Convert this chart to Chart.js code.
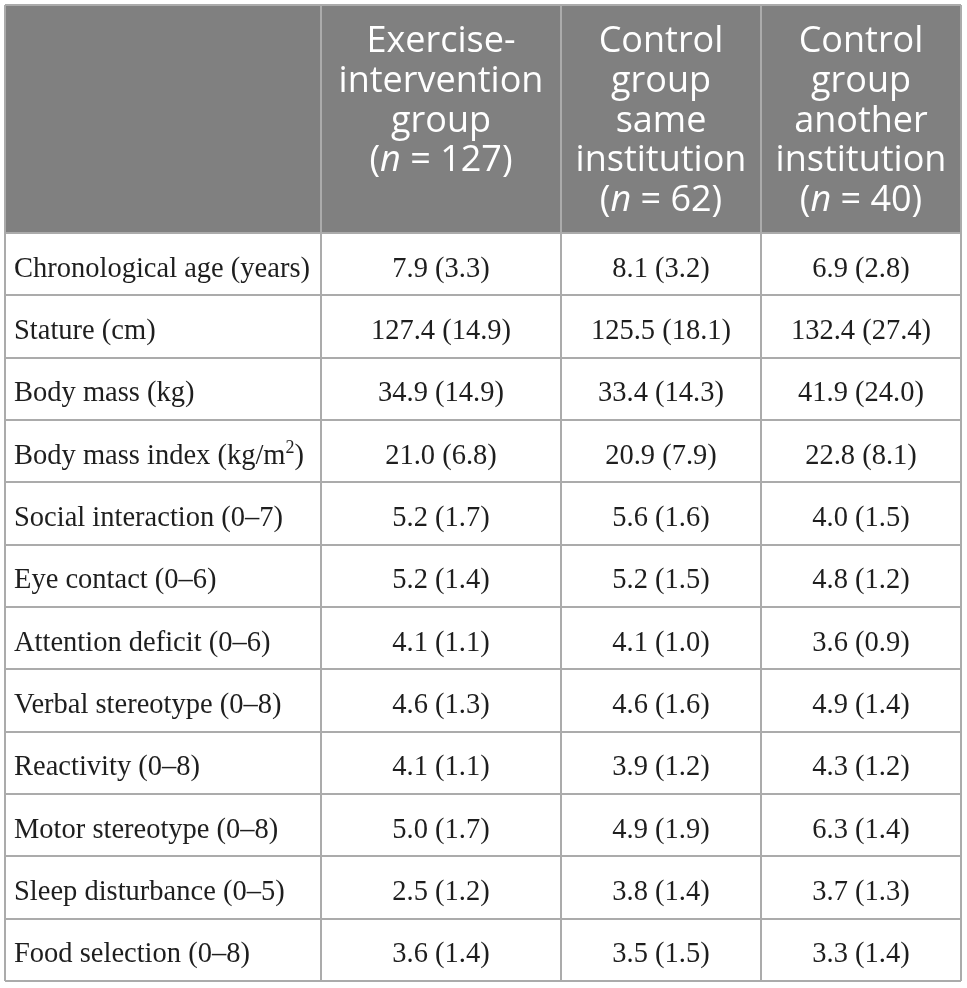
<!DOCTYPE html>
<html>
<head>
<meta charset="utf-8">
<script src="https://cdn.jsdelivr.net/npm/chart.js@4.4.1/dist/chart.umd.min.js"></script>
<style>
  html, body { margin: 0; padding: 0; background: #fff; }
  canvas { display: block; }
</style>
</head>
<body>
<canvas id="table" width="967" height="988"></canvas>
<script>
// Table content
const rowLabels = [
    'Chronological age (years)',
    'Stature (cm)',
    'Body mass (kg)',
    'Body mass index (kg/m²)',
    'Social interaction (0–7)',
    'Eye contact (0–6)',
    'Attention deficit (0–6)',
    'Verbal stereotype (0–8)',
    'Reactivity (0–8)',
    'Motor stereotype (0–8)',
    'Sleep disturbance (0–5)',
    'Food selection (0–8)'
];
const groupNames = [
    ['Exercise-', 'intervention', 'group'],
    ['Control', 'group', 'same', 'institution'],
    ['Control', 'group', 'another', 'institution']
];
const groupSizes = [127, 62, 40];

const exerciseMean = [7.9, 127.4, 34.9, 21.0, 5.2, 5.2, 4.1, 4.6, 4.1, 5.0, 2.5, 3.6];
const exerciseSD   = [3.3, 14.9, 14.9, 6.8, 1.7, 1.4, 1.1, 1.3, 1.1, 1.7, 1.2, 1.4];
const sameMean     = [8.1, 125.5, 33.4, 20.9, 5.6, 5.2, 4.1, 4.6, 3.9, 4.9, 3.8, 3.5];
const sameSD       = [3.2, 18.1, 14.3, 7.9, 1.6, 1.5, 1.0, 1.6, 1.2, 1.9, 1.4, 1.5];
const anotherMean  = [6.9, 132.4, 41.9, 22.8, 4.0, 4.8, 3.6, 4.9, 4.3, 6.3, 3.7, 3.3];
const anotherSD    = [2.8, 27.4, 24.0, 8.1, 1.5, 1.2, 0.9, 1.4, 1.2, 1.4, 1.3, 1.4];

// Layout (table units on the x axis, row units on the y axis)
const colEdges = [0, 316, 556, 756, 956];
const headerRows = 3.66;

const lineColor = '#ababab';
const headerFill = '#808080';
const textColor = '#1e1e1e';
const bodyFont = '28.5px "Liberation Serif", "Times New Roman", serif';
const supFont = '18px "Liberation Serif", "Times New Roman", serif';
const headFont = '36px "Open Sans", sans-serif';
const headItalic = 'italic 36px "Open Sans", sans-serif';

const colCenter = i => (colEdges[i] + colEdges[i + 1]) / 2;
const fmt = (m, s) => m.toFixed(1) + ' (' + s.toFixed(1) + ')';

const valueColumns = [[exerciseMean, exerciseSD], [sameMean, sameSD], [anotherMean, anotherSD]];

const datasets = [{
    label: 'labels',
    align: 'left',
    data: rowLabels.map((t, i) => ({ x: colEdges[0], y: i + 0.5, text: t }))
}].concat(valueColumns.map(([means, sds], k) => ({
    label: groupNames[k].join(' '),
    align: 'center',
    data: means.map((m, i) => ({ x: colCenter(k + 1), y: i + 0.5, text: fmt(m, sds[i]) }))
})));

// draw a run of differently styled pieces as one line
function drawSegments(ctx, segs, x, y, align) {
    let total = 0;
    segs.forEach(s => { ctx.font = s.font; s.w = ctx.measureText(s.t).width; total += s.w; });
    let cx = align === 'left' ? x : x - total / 2;
    ctx.textAlign = 'left';
    ctx.textBaseline = 'alphabetic';
    segs.forEach(s => {
        ctx.font = s.font;
        ctx.fillText(s.t, cx, y + (s.dy || 0));
        cx += s.w;
    });
}

function bodySegments(text) {
    const segs = [];
    text.split('²').forEach((p, i, arr) => {
        segs.push({ t: p, font: bodyFont });
        if (i < arr.length - 1) segs.push({ t: '2', font: supFont, dy: -11 });
    });
    return segs;
}

const tablePlugin = {
    id: 'tablePlugin',
    beforeDraw(chart) {
        const { ctx, chartArea, scales } = chart;
        const bottom = scales.y.getPixelForValue(0);
        ctx.save();
        ctx.fillStyle = headerFill;
        ctx.fillRect(chartArea.left, chartArea.top, chartArea.right - chartArea.left, bottom - chartArea.top);
        ctx.restore();
    },
    afterDatasetsDraw(chart) {
        const { ctx } = chart;
        ctx.save();
        ctx.fillStyle = textColor;
        chart.data.datasets.forEach((ds, d) => {
            chart.getDatasetMeta(d).data.forEach((pt, i) => {
                const x = ds.align === 'left' ? pt.x + 9 : pt.x;
                drawSegments(ctx, bodySegments(ds.data[i].text), x, pt.y + 12.5, ds.align);
            });
        });
        ctx.restore();
    },
    afterDraw(chart) {
        const { ctx, scales } = chart;
        const top = scales.y.getPixelForValue(-headerRows);
        ctx.save();
        ctx.fillStyle = '#ffffff';
        groupNames.forEach((lines, k) => {
            const cx = scales.x.getPixelForValue(colCenter(k + 1));
            lines.forEach((line, j) => {
                drawSegments(ctx, [{ t: line, font: headFont }], cx, top + 47 + j * 39.75, 'center');
            });
            drawSegments(ctx, [
                { t: '(', font: headFont },
                { t: 'n', font: headItalic },
                { t: ' = ' + groupSizes[k] + ')', font: headFont }
            ], cx, top + 47 + lines.length * 39.75, 'center');
        });
        ctx.restore();
    }
};

new Chart(document.getElementById('table'), {
    type: 'scatter',
    data: { datasets },
    options: {
        responsive: false,
        animation: false,
        events: [],
        layout: { padding: { left: 5, top: 5, right: 6, bottom: 7 } },
        elements: { point: { radius: 0, hoverRadius: 0 } },
        plugins: {
            legend: { display: false },
            tooltip: { enabled: false }
        },
        scales: {
            x: {
                type: 'linear',
                min: colEdges[0],
                max: colEdges[colEdges.length - 1],
                afterBuildTicks: s => { s.ticks = colEdges.map(v => ({ value: v })); },
                ticks: { display: false },
                grid: { color: lineColor, lineWidth: 2, drawTicks: false },
                border: { display: false }
            },
            y: {
                type: 'linear',
                reverse: true,
                min: -headerRows,
                max: rowLabels.length,
                afterBuildTicks: s => {
                    s.ticks = [-headerRows].concat(rowLabels.map((_, i) => i), [rowLabels.length])
                        .map(v => ({ value: v }));
                },
                ticks: { display: false },
                grid: { color: lineColor, lineWidth: 2, drawTicks: false },
                border: { display: false }
            }
        }
    },
    plugins: [tablePlugin]
});
</script>
</body>
</html>
